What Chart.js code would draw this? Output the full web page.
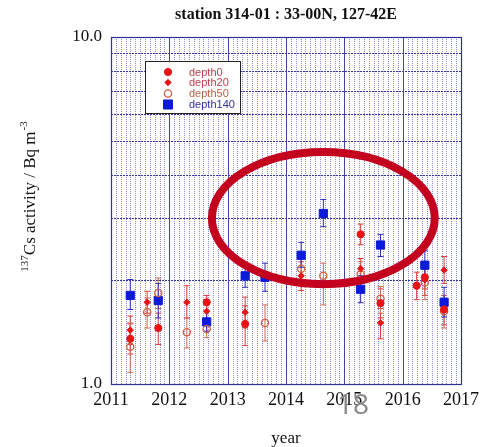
<!DOCTYPE html>
<html><head><meta charset="utf-8">
<script src="https://cdn.jsdelivr.net/npm/chart.js@4.4.1/dist/chart.umd.min.js"></script>
<style>html,body{margin:0;padding:0;background:#fff;}#wrap{width:489px;height:447px;position:relative;}</style>
</head><body><div id="wrap"><canvas id="c" width="489" height="447"></canvas></div>
<script>
// ---- data (decimal year, Bq/m3, error low, error high) ----
const chartTitle = 'station 314-01 : 33-00N, 127-42E';
const xTickValues = [2011, 2012, 2013, 2014, 2015, 2016, 2017];
const yTickValues = [1, 10];
const yTickLabels = ['1.0', '10.0'];
const yGridValues = [2, 3, 4, 5, 6, 7, 8, 9];
const seriesNames = ['depth0', 'depth20', 'depth50', 'depth140'];

const depth0Time  = [2011.33, 2011.81, 2012.64, 2013.30, 2015.28, 2015.62, 2016.24, 2016.38, 2016.71];
const depth0Value = [1.35, 1.45, 1.72, 1.49, 2.70, 1.71, 1.92, 2.03, 1.64];
const depth0Low   = [1.22, 1.30, 1.62, 1.29, 2.52, 1.55, 1.75, 1.88, 1.48];
const depth0High  = [1.49, 1.60, 1.80, 1.68, 2.89, 1.88, 2.10, 2.18, 1.80];

const depth20Time  = [2011.33, 2011.62, 2012.30, 2012.64, 2013.30, 2014.26, 2015.28, 2015.62, 2016.38, 2016.71];
const depth20Value = [1.43, 1.72, 1.72, 1.62, 1.61, 2.05, 2.15, 1.50, 1.995, 2.13];
const depth20Low   = [1.30, 1.60, 1.55, 1.52, 1.45, 1.86, 2.00, 1.35, 1.80, 1.95];
const depth20High  = [1.57, 1.85, 1.92, 1.74, 1.78, 2.25, 2.30, 1.65, 2.20, 2.33];

const depth50Time  = [2011.33, 2011.62, 2011.81, 2012.30, 2012.64, 2013.64, 2014.26, 2014.64, 2015.28, 2015.62, 2016.38, 2016.71];
const depth50Value = [1.28, 1.61, 1.83, 1.41, 1.44, 1.50, 2.15, 2.05, 2.07, 1.76, 1.96, 1.62];
const depth50Low   = [1.08, 1.45, 1.65, 1.27, 1.36, 1.33, 2.00, 1.69, 1.90, 1.60, 1.75, 1.45];
const depth50High  = [1.50, 1.77, 2.02, 1.55, 1.52, 1.69, 2.30, 2.23, 2.25, 1.91, 2.15, 1.80];

const depth140Time  = [2011.33, 2011.81, 2012.64, 2013.30, 2013.64, 2014.26, 2014.64, 2015.28, 2015.62, 2016.38, 2016.71];
const depth140Value = [1.80, 1.74, 1.51, 2.05, 2.03, 2.35, 3.10, 1.875, 2.515, 2.20, 1.72];
const depth140Low   = [1.64, 1.55, 1.42, 1.90, 1.85, 2.17, 2.84, 1.715, 2.33, 2.02, 1.56];
const depth140High  = [2.00, 1.95, 1.62, 2.19, 2.23, 2.56, 3.40, 2.05, 2.70, 2.42, 1.90];

// highlighted region (annotation), in data units
const highlightX = [2012.73, 2016.55];
const highlightY = [1.94, 4.66];
const pageNumber = '18';

function pts(t, v, lo, hi) { return t.map((x, i) => ({x: x, y: v[i], lo: lo[i], hi: hi[i]})); }

const styles = [
  {style: 'circle',  radius: 3.6, fill: '#e81414', stroke: '#e81414', bw: 1,   err: '#e03a3a', text: '#c0404c'},
  {style: 'rectRot', radius: 3.2, fill: '#e81414', stroke: '#e81414', bw: 1,   err: '#e03a3a', text: '#c0404c'},
  {style: 'circle',  radius: 3.6, fill: 'rgba(255,255,255,0)', stroke: '#d0603c', bw: 1.3, err: '#cc6a50', text: '#b86048'},
  {style: 'rect',    radius: 5.8, fill: '#0a1ad8', stroke: '#0a1ad8', bw: 1,   err: '#2a2ac0', text: '#3030a0'}
];
const dataSets = [
  pts(depth0Time, depth0Value, depth0Low, depth0High),
  pts(depth20Time, depth20Value, depth20Low, depth20High),
  pts(depth50Time, depth50Value, depth50Low, depth50High),
  pts(depth140Time, depth140Value, depth140Low, depth140High)
];

function drawMarker(ctx, s, x, y) {
  ctx.save();
  ctx.fillStyle = s.fill; ctx.strokeStyle = s.stroke; ctx.lineWidth = s.bw;
  ctx.beginPath();
  if (s.style === 'circle') ctx.arc(x, y, s.radius, 0, Math.PI * 2);
  else if (s.style === 'rectRot') { const r = s.radius; ctx.moveTo(x, y - r); ctx.lineTo(x + r, y); ctx.lineTo(x, y + r); ctx.lineTo(x - r, y); ctx.closePath(); }
  else { const h = s.radius * Math.SQRT1_2; ctx.rect(x - h, y - h, 2 * h, 2 * h); }
  ctx.fill(); ctx.stroke();
  ctx.restore();
}

const custom = {
  id: 'custom',
  beforeDatasetsDraw(chart) {
    const {ctx, chartArea: a, scales: {x, y}} = chart;
    ctx.save();
    // monthly minor lines
    ctx.strokeStyle = 'rgba(80,80,180,0.65)'; ctx.lineWidth = 1; ctx.setLineDash([1, 1]);
    for (let yr = xTickValues[0]; yr < xTickValues[xTickValues.length - 1]; yr++) {
      for (let m = 1; m < 12; m++) {
        const px = Math.round(x.getPixelForValue(yr + m / 12)) + 0.5;
        ctx.beginPath(); ctx.moveTo(px, a.top); ctx.lineTo(px, a.bottom); ctx.stroke();
      }
    }
    // horizontal log grid
    ctx.strokeStyle = '#3434a4'; ctx.setLineDash([2, 1]);
    yGridValues.forEach(v => {
      const py = Math.round(y.getPixelForValue(v)) + 0.5;
      ctx.beginPath(); ctx.moveTo(a.left, py); ctx.lineTo(a.right, py); ctx.stroke();
    });
    // year lines
    ctx.setLineDash([]); ctx.strokeStyle = '#4444a8';
    xTickValues.forEach(v => {
      const px = Math.round(x.getPixelForValue(v)) + 0.5;
      ctx.beginPath(); ctx.moveTo(px, a.top); ctx.lineTo(px, a.bottom); ctx.stroke();
    });
    // frame
    ctx.strokeStyle = '#30309a'; ctx.lineWidth = 1.2;
    ctx.strokeRect(a.left + 0.5, a.top + 0.5, a.right - a.left, a.bottom - a.top);
    // error bars
    ctx.lineWidth = 1;
    chart.data.datasets.forEach((ds, i) => {
      ctx.strokeStyle = styles[i].err;
      ds.data.forEach(p => {
        const px = x.getPixelForValue(p.x), y1 = y.getPixelForValue(p.lo), y2 = y.getPixelForValue(p.hi);
        ctx.beginPath();
        ctx.moveTo(px, y1); ctx.lineTo(px, y2);
        ctx.moveTo(px - 3, y1); ctx.lineTo(px + 3, y1);
        ctx.moveTo(px - 3, y2); ctx.lineTo(px + 3, y2);
        ctx.stroke();
      });
    });
    ctx.restore();
  },
  afterDraw(chart) {
    const {ctx, chartArea: a, scales: {x, y}} = chart;
    ctx.save();
    // title
    ctx.fillStyle = '#111'; ctx.font = 'bold 16px "Liberation Serif"';
    ctx.textAlign = 'center'; ctx.textBaseline = 'middle';
    ctx.fillText(chartTitle, (a.left + a.right) / 2, 15);
    // y title with superscripts
    ctx.save();
    ctx.translate(35, 197); ctx.rotate(-Math.PI / 2);
    ctx.textBaseline = 'alphabetic'; ctx.textAlign = 'left';
    const fBig = '17px "Liberation Serif"', fSmall = '11px "Liberation Serif"';
    const p1 = '137', p2 = 'Cs activity / Bq m', p3 = '-3';
    ctx.font = fSmall; const w1 = ctx.measureText(p1).width, w3 = ctx.measureText(p3).width;
    ctx.font = fBig; const w2 = ctx.measureText(p2).width;
    let sx = -(w1 + w2 + w3) / 2;
    ctx.font = fSmall; ctx.fillText(p1, sx, -7); sx += w1;
    ctx.font = fBig; ctx.fillText(p2, sx, 0); sx += w2;
    ctx.font = fSmall; ctx.fillText(p3, sx + 1, -8);
    ctx.restore();
    // legend
    const lx = 145.5, ly = 61.5, lw = 95, lh = 52;
    ctx.fillStyle = '#fff'; ctx.fillRect(lx, ly, lw, lh);
    ctx.strokeStyle = '#222'; ctx.lineWidth = 1; ctx.strokeRect(lx, ly, lw, lh);
    ctx.font = '11px "Liberation Sans"'; ctx.textAlign = 'left'; ctx.textBaseline = 'middle';
    const rowY = [72, 82.5, 93.5, 104.5];
    seriesNames.forEach((n, i) => {
      const s = Object.assign({}, styles[i]);
      if (i === 3) s.radius = 6.4;
      drawMarker(ctx, s, 168, rowY[i]);
      ctx.fillStyle = s.text; ctx.fillText(n, 189, rowY[i] + 0.5);
    });
    // highlight ellipse
    const ex0 = x.getPixelForValue(highlightX[0]), ex1 = x.getPixelForValue(highlightX[1]);
    const ey0 = y.getPixelForValue(highlightY[1]), ey1 = y.getPixelForValue(highlightY[0]);
    ctx.strokeStyle = '#c3001e'; ctx.lineWidth = 8;
    ctx.beginPath();
    ctx.ellipse((ex0 + ex1) / 2, (ey0 + ey1) / 2, (ex1 - ex0) / 2, (ey1 - ey0) / 2, 0, 0, Math.PI * 2);
    ctx.stroke();
    // page number
    ctx.fillStyle = '#8c8c8c'; ctx.font = '28px "Noto Sans"'; ctx.textAlign = 'center'; ctx.textBaseline = 'middle';
    ctx.fillText(pageNumber, 353, 406);
    ctx.restore();
  }
};

new Chart(document.getElementById('c'), {
  type: 'scatter',
  data: {
    datasets: dataSets.map((d, i) => ({
      label: seriesNames[i], data: d, showLine: false,
      pointStyle: styles[i].style, pointRadius: styles[i].radius, pointHoverRadius: styles[i].radius,
      backgroundColor: styles[i].fill, borderColor: styles[i].stroke, pointBorderWidth: styles[i].bw
    }))
  },
  options: {
    responsive: false, animation: false, events: [],
    layout: {padding: {top: 37, right: 28, left: 0, bottom: 0}},
    plugins: {legend: {display: false}, tooltip: {enabled: false}, title: {display: false}},
    scales: {
      x: {
        type: 'linear', min: 2011, max: 2017,
        afterBuildTicks: ax => { ax.ticks = xTickValues.map(v => ({value: v})); },
        afterFit: ax => { ax.height = 63; },
        grid: {display: false, drawTicks: false}, border: {display: false},
        ticks: {color: '#111', font: {family: 'Liberation Serif', size: 18}, padding: 5, maxRotation: 0,
                autoSkip: false, callback: v => String(v)},
        title: {display: true, text: 'year', color: '#111', font: {family: 'Liberation Serif', size: 17}, padding: {top: 0, bottom: -2}}
      },
      y: {
        type: 'logarithmic', min: 1, max: 10,
        afterBuildTicks: ax => { ax.ticks = yTickValues.map(v => ({value: v})); },
        afterFit: ax => { ax.width = 111; },
        grid: {display: false, drawTicks: false}, border: {display: false},
        ticks: {color: '#111', font: {family: 'Liberation Serif', size: 17}, padding: 9, autoSkip: false,
                callback: (v, i) => yTickLabels[i]}
      }
    }
  },
  plugins: [custom]
});
</script></body></html>
